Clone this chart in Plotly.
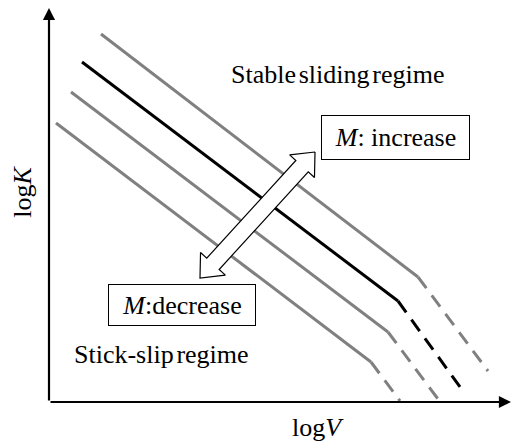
import numpy as np
import plotly.graph_objects as go

# Stability boundaries: log V (x) and log K (y) at start, knee and end of each curve
boundary_names = ["upper", "reference", "lower", "lowest"]
boundary_logV = [
    [1.30, 9.225, 10.975],
    [0.825, 8.725, 10.275],
    [0.55, 8.475, 9.725],
    [0.175, 8.05, 8.775],
]
boundary_logK = [
    [9.20, 3.125, 0.775],
    [8.50, 2.525, 0.375],
    [7.75, 1.75, 0.075],
    [6.975, 1.00, 0.025],
]
boundary_colors = ["#808080", "#000000", "#808080", "#808080"]

# Direction of the M arrow (decrease end -> increase end)
arrow_logV = [3.775, 6.65]
arrow_logK = [3.10, 6.25]

# Axis extents
x_end = 11.55
y_end = 9.85

FONT = "Liberation Serif, Times New Roman, serif"
# narrow word gap
GAP = '<span style="font-size:11px"> </span>'

fig = go.Figure()

for name, xs, ys, col in zip(boundary_names, boundary_logV, boundary_logK, boundary_colors):
    fig.add_trace(go.Scatter(x=xs[:2], y=ys[:2], mode="lines",
                             line=dict(color=col, width=3), name=name,
                             hoverinfo="skip", showlegend=False))
    fig.add_trace(go.Scatter(x=xs[1:], y=ys[1:], mode="lines",
                             line=dict(color=col, width=3, dash="14px,9px"),
                             name=name, hoverinfo="skip", showlegend=False))

# Hollow double-headed arrow
p0 = np.array([arrow_logV[0], arrow_logK[0]])
p1 = np.array([arrow_logV[1], arrow_logK[1]])
u = (p1 - p0) / np.linalg.norm(p1 - p0)
n = np.array([u[1], -u[0]])
head_len, head_half, shaft_half = 0.48, 0.42, 0.21
pts = [
    p1,
    p1 - head_len * u + head_half * n,
    p1 - head_len * u + shaft_half * n,
    p0 + head_len * u + shaft_half * n,
    p0 + head_len * u + head_half * n,
    p0,
    p0 + head_len * u - head_half * n,
    p0 + head_len * u - shaft_half * n,
    p1 - head_len * u - shaft_half * n,
    p1 - head_len * u - head_half * n,
    p1,
]
pts = np.array(pts)
fig.add_trace(go.Scatter(x=pts[:, 0], y=pts[:, 1], mode="lines", fill="toself",
                         fillcolor="white", line=dict(color="black", width=1.2),
                         hoverinfo="skip", showlegend=False))

txt = dict(family=FONT, size=26, color="black")

annotations = [
    # axes with arrowheads
    dict(x=0, y=y_end, ax=0, ay=0, xref="x", yref="y", axref="x", ayref="y",
         showarrow=True, arrowhead=2, arrowsize=1.1, arrowwidth=2.2,
         arrowcolor="black", text=""),
    dict(x=x_end, y=0, ax=0, ay=0, xref="x", yref="y", axref="x", ayref="y",
         showarrow=True, arrowhead=2, arrowsize=1.1, arrowwidth=2.2,
         arrowcolor="black", text=""),
    dict(x=6.725, y=-0.64, text="log<i>V</i>", showarrow=False, font=txt),
    dict(x=-0.68, y=5.25, text="log<i>K</i>", showarrow=False, textangle=-90, font=txt),
    dict(x=7.21, y=8.2, text=f"Stable{GAP}sliding{GAP}regime", showarrow=False, font=txt),
    dict(x=2.8, y=1.2, text=f"Stick-slip{GAP}regime", showarrow=False, font=txt),
    dict(x=8.6625, y=6.6125, text="<i>M</i>: increase", showarrow=False, font=txt,
         bordercolor="black", borderwidth=1, borderpad=1, bgcolor="white",
         width=145, height=41),
    dict(x=3.325, y=2.425, text="<i>M</i>:decrease", showarrow=False, font=txt,
         bordercolor="black", borderwidth=1, borderpad=1, bgcolor="white",
         width=144, height=38),
]

fig.update_layout(
    width=513, height=448,
    margin=dict(l=0, r=0, t=0, b=0),
    paper_bgcolor="white", plot_bgcolor="white",
    xaxis=dict(range=[-1.225, 11.6], visible=False, fixedrange=True),
    yaxis=dict(range=[-1.15, 10.05], visible=False, fixedrange=True),
    annotations=annotations,
    showlegend=False,
)

fig.write_html("out.html")
